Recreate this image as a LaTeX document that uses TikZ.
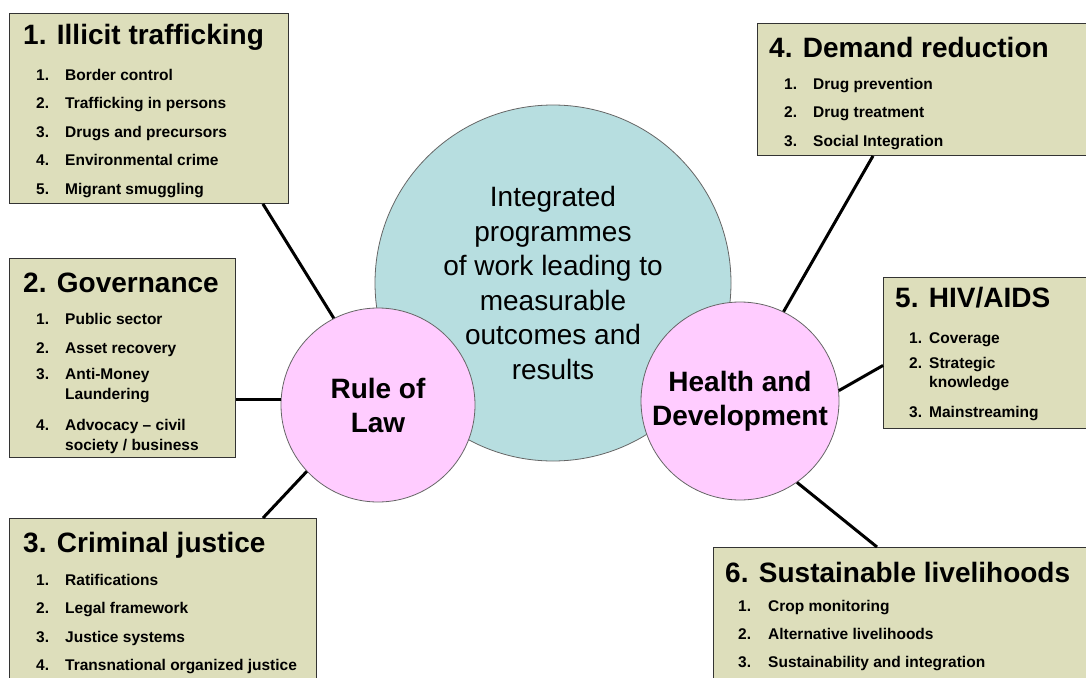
\documentclass[tikz,border=0pt]{standalone}
\usepackage{fontspec}
\setmainfont{Liberation Sans}
\usetikzlibrary{calc}
\definecolor{boxfill}{RGB}{221,222,187}
\definecolor{hubfill}{RGB}{183,222,224}
\definecolor{pillarfill}{RGB}{255,204,255}

\begin{document}
\begin{tikzpicture}[x=1pt,y=-1pt,
    area/.style={draw=black!80,line width=0.9pt,fill=boxfill,anchor=north west,inner sep=0pt},
    title/.style={anchor=base west,inner sep=0pt,font=\fontsize{28}{33}\selectfont\bfseries},
    item/.style={anchor=base west,inner sep=0pt,font=\fontsize{15.5}{20}\selectfont\bfseries},
    pillar/.style={circle,draw=black!60,line width=0.8pt,fill=pillarfill,inner sep=0pt,align=center,
      font=\fontsize{28}{34}\selectfont\bfseries},
    link/.style={line width=3pt}]
    \clip (0,0) rectangle (1086,677);

    % the three circles
    \node [circle,draw=black!60,line width=0.8pt,fill=hubfill,minimum size=356pt,align=center,
      font=\fontsize{28}{34.5}\selectfont] (hub) at (553,283)
      {Integrated\\programmes\\of work leading to\\measurable\\outcomes and\\results};
    \node [pillar,minimum size=194pt] (rol) at (378,405) {Rule of\\Law};
    \node [pillar,minimum size=198pt] (hd) at (740,401) {Health and\\Development};

    % 1. illicit trafficking
    \node [area,minimum width=279pt,minimum height=190pt] (box1) at (9,13) {};
    \node [title] (title1) at (23,45) {1. Illicit trafficking};
    \foreach \i/\txt/\yb in {1/Border control/80,2/Trafficking in persons/108.5,
        3/Drugs and precursors/137,4/Environmental crime/165.5,5/Migrant smuggling/194} {
      \node [item] (num1-\i) at (36,\yb) {\i.};
      \node [item] (item1-\i) at (65,\yb) {\txt};
    }

    % 2. governance
    \node [area,minimum width=226pt,minimum height=199pt] (box2) at (9,258) {};
    \node [title] (title2) at (23,292) {2. Governance};
    \foreach \i/\txt/\yb in {1/Public sector/324,2/Asset recovery/353,
        3/Anti-Money/379,4/Advocacy -- civil/430} {
      \node [item] (num2-\i) at (36,\yb) {\i.};
      \node [item] (item2-\i) at (65,\yb) {\txt};
    }
    \node [item] (item2-3b) at (65,399) {Laundering};
    \node [item] (item2-4b) at (65,450) {society / business};

    % 3. criminal justice
    \node [area,minimum width=307pt,minimum height=200pt] (box3) at (9,518) {};
    \node [title] (title3) at (23,552) {3. Criminal justice};
    \foreach \i/\txt/\yb in {1/Ratifications/585,2/Legal framework/613,
        3/Justice systems/642,4/Transnational organized justice/670} {
      \node [item] (num3-\i) at (36,\yb) {\i.};
      \node [item] (item3-\i) at (65,\yb) {\txt};
    }

    % 4. demand reduction
    \node [area,minimum width=400pt,minimum height=132pt] (box4) at (757,23) {};
    \node [title] (title4) at (769,57) {4. Demand reduction};
    \foreach \i/\txt/\yb in {1/Drug prevention/89,2/Drug treatment/117,3/Social Integration/146} {
      \node [item] (num4-\i) at (784,\yb) {\i.};
      \node [item] (item4-\i) at (813,\yb) {\txt};
    }

    % 5. hiv/aids
    \node [area,minimum width=300pt,minimum height=151pt] (box5) at (883,277) {};
    \node [title] (title5) at (895,307) {5. HIV/AIDS};
    \foreach \i/\txt/\yb in {1/Coverage/343,2/Strategic/368,3/Mainstreaming/417} {
      \node [item] (num5-\i) at (909,\yb) {\i.};
      \node [item] (item5-\i) at (929,\yb) {\txt};
    }
    \node [item] (item5-2b) at (929,387) {knowledge};

    % 6. sustainable livelihoods
    \node [area,minimum width=400pt,minimum height=200pt] (box6) at (713,547) {};
    \node [title] (title6) at (725,582) {6. Sustainable livelihoods};
    \foreach \i/\txt/\yb in {1/Crop monitoring/611,2/Alternative livelihoods/639,
        3/Sustainability and integration/667} {
      \node [item] (num6-\i) at (738,\yb) {\i.};
      \node [item] (item6-\i) at (768,\yb) {\txt};
    }

    % connectors
    \draw [link] ($(box1.south east)+(-26,0)$) -- (rol.117);
    \draw [link] (rol.177) -- (rol.177 -| box2.east);
    \draw [link] ($(box3.north west)+(254,0)$) -- (rol.223);
    \draw [link] ($(box4.south west)+(116,0)$) -- (hd.64);
    \draw [link] ($(box5.west)+(0,12.5)$) -- (hd.6);
    \draw [link] ($(box6.north west)+(164,0)$) -- (hd.305);
\end{tikzpicture}
\end{document}
